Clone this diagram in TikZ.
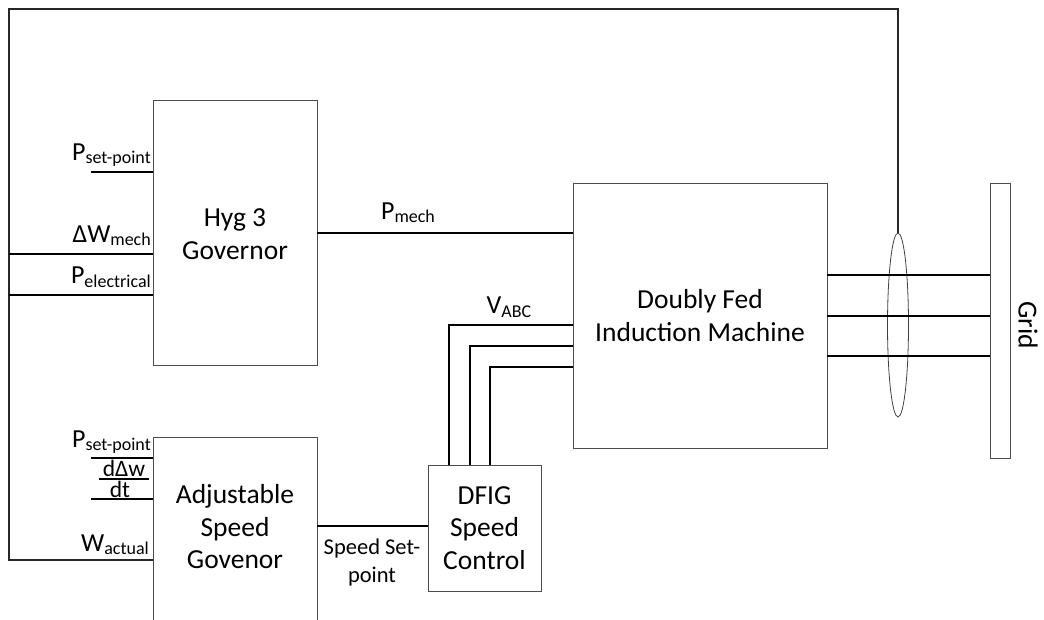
\documentclass[tikz,border=0pt]{standalone}
\usepackage{fontspec}
\setmainfont{Carlito}
\usetikzlibrary{shapes.geometric}
% subscript set a little below the baseline
\newcommand\lowsub[1]{\raisebox{-3pt}{\fontsize{18}{18}\selectfont #1}}
\begin{document}
\begin{tikzpicture}[x=1pt,y=-1pt,
  box/.style={draw=black!70,line width=0.9pt,inner sep=0pt,fill=white},
  wire/.style={line width=1.8pt,black},
  lbl/.style={font=\fontsize{26}{28}\selectfont,inner sep=0pt},
  frac/.style={font=\fontsize{23.5}{24}\selectfont,inner sep=0pt,anchor=base},
  btxt/.style={font=\fontsize{27.5}{32.5}\selectfont,align=center,inner sep=0pt},
  stxt/.style={font=\fontsize{22.5}{28}\selectfont,align=center,inner sep=0pt}]
\useasboundingbox (0,0) rectangle (1044,620);
\begin{scope}
\clip (0,0) rectangle (1044,620);

% blocks
\node[box,minimum width=164pt,minimum height=265pt] (hyg) at (235,232.5) {};
\node[btxt] (hygtxt) at (235,234) {Hyg 3\\Governor};
\node[box,minimum width=164pt,minimum height=203pt] (asg) at (235,538.5) {};
\node[btxt] (asgtxt) at (235,527) {Adjustable\\Speed\\Govenor};
\node[box,minimum width=113pt,minimum height=126pt] (dsc) at (484.5,528) {};
\node[btxt] (dsctxt) at (dsc.center) {DFIG\\Speed\\Control};
\node[box,minimum width=254pt,minimum height=265pt] (dfim) at (700,315.5) {};
\node[btxt] (dfimtxt) at (dfim.center) {Doubly Fed\\Induction Machine};
\node[box,minimum width=20pt,minimum height=275pt] (grid) at (1000,320.5) {};
\node[btxt,rotate=-90] (gridtxt) at (1028,325) {Grid};
\node[ellipse,draw=black!75,line width=0.8pt,minimum width=21pt,minimum height=184pt,inner sep=0pt] (ell) at (898,325) {};

% routing points
\coordinate (tr) at (898,9);
\coordinate (tl) at (9,9);
\coordinate (bl) at (9,560);
\coordinate (dw) at (9,254);
\coordinate (pe) at (9,295);
\coordinate (ps1) at (91,172);
\coordinate (ps2) at (91,458);
\coordinate (dt) at (91,499);
\coordinate (pm) at (0,233);
\coordinate (ss) at (0,526);
\coordinate (v1) at (449,325);
\coordinate (v2) at (470,346);
\coordinate (v3) at (490,367);
\coordinate (o1) at (0,275);
\coordinate (o2) at (0,316);
\coordinate (o3) at (0,356);
\coordinate (fl) at (99,479);
\coordinate (fr) at (149,479);

% feedback loop from the measured grid lines
\draw[wire,line width=1.6pt,black!85] (ell.north) -- (tr) -- (tl) -- (bl) -- (bl -| asg.west);
\draw[wire] (dw) -- (dw -| hyg.west);
\draw[wire] (pe) -- (pe -| hyg.west);
\draw[wire] (ps1) -- (ps1 -| hyg.west);
\draw[wire] (ps2) -- (ps2 -| asg.west);
\draw[wire] (dt) -- (dt -| asg.west);

% mechanical power and speed set-point
\draw[wire] (pm -| hyg.east) -- (pm -| dfim.west);
\draw[wire] (ss -| asg.east) -- (ss -| dsc.west);

% rotor voltages
\draw[wire] (v1 |- dsc.north) -- (v1) -- (v1 -| dfim.west);
\draw[wire] (v2 |- dsc.north) -- (v2) -- (v2 -| dfim.west);
\draw[wire] (v3 |- dsc.north) -- (v3) -- (v3 -| dfim.west);

% stator lines to the grid
\draw[wire] (o1 -| dfim.east) -- (o1 -| grid.west);
\draw[wire] (o2 -| dfim.east) -- (o2 -| grid.west);
\draw[wire] (o3 -| dfim.east) -- (o3 -| grid.west);

% signal labels
\node[lbl,anchor=base east] (lps1) at (151,161) {P\lowsub{set-point}};
\node[lbl,anchor=base east] (ldw) at (151,243) {ΔW\lowsub{mech}};
\node[lbl,anchor=base east] (lpe) at (151,284) {P\lowsub{electrical}};
\node[lbl,anchor=base east] (lps2) at (151,447) {P\lowsub{set-point}};
\node[frac,text depth=0pt] (lnum) at (124,476) {dΔw};
\draw[line width=1.6pt] (fl) -- (fr);
\node[frac,text height=16.5pt] (lden) at (120,497.5) {dt};
\node[lbl,anchor=base east] (lwa) at (149,551) {W\lowsub{actual}};
\node[lbl,anchor=base] (lpm) at (408,220) {P\lowsub{mech}};
\node[lbl,anchor=base] (lv) at (509,314) {V\lowsub{ABC}};
\node[stxt] (lss) at (372,562) {Speed Set-\\point};
\end{scope}
\end{tikzpicture}
\end{document}
